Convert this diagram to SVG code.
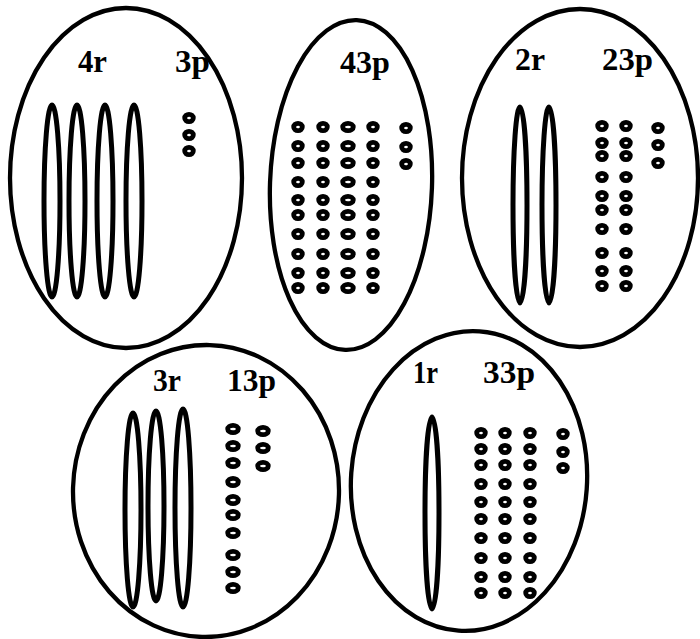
<svg xmlns="http://www.w3.org/2000/svg" width="700" height="639" viewBox="0 0 700 639">
<style>
.cell{fill:none;stroke:#000;stroke-width:4.3}
.rod{fill:none;stroke:#000;stroke-width:5}
.dot{fill:none;stroke:#000;stroke-width:4.8}
.lbl{font-family:"Liberation Serif",serif;font-size:31px;font-weight:bold;fill:#000}
</style>
<defs>
<ellipse id="d" class="dot" cx="0" cy="0" rx="4.3" ry="3.7"/>
<ellipse id="dw" class="dot" cx="0" cy="0" rx="5.3" ry="3.7"/>
</defs>
<rect width="700" height="639" fill="#fff"/>

<g id="cell1">
<ellipse class="cell" cx="126" cy="178" rx="116" ry="170"/>
<ellipse class="rod" cx="52" cy="201" rx="8" ry="96"/>
<ellipse class="rod" cx="77" cy="201" rx="8" ry="96"/>
<ellipse class="rod" cx="105" cy="201" rx="8" ry="96"/>
<ellipse class="rod" cx="134" cy="201" rx="8" ry="96"/>
<use href="#d" x="189" y="118"/><use href="#d" x="189" y="135"/><use href="#d" x="189" y="151"/>
<text class="lbl" x="78" y="72" textLength="29" lengthAdjust="spacingAndGlyphs">4r</text>
<text class="lbl" x="175" y="72" textLength="35" lengthAdjust="spacingAndGlyphs">3p</text>
</g>

<g id="cell2">
<ellipse class="cell" cx="351" cy="185" rx="81" ry="165" transform="rotate(2 351 185)"/>
<g>
<use href="#d" x="298" y="127"/><use href="#d" x="298" y="146"/><use href="#d" x="298" y="163"/><use href="#d" x="298" y="182"/><use href="#d" x="298" y="200"/><use href="#d" x="298" y="215"/><use href="#d" x="298" y="234"/><use href="#d" x="298" y="254"/><use href="#d" x="298" y="273"/><use href="#d" x="298" y="288"/>
<use href="#d" x="323" y="127"/><use href="#d" x="323" y="146"/><use href="#d" x="323" y="163"/><use href="#d" x="323" y="182"/><use href="#d" x="323" y="200"/><use href="#d" x="323" y="215"/><use href="#d" x="323" y="234"/><use href="#d" x="323" y="254"/><use href="#d" x="323" y="273"/><use href="#d" x="323" y="288"/>
<use href="#dw" x="348" y="127"/><use href="#dw" x="348" y="146"/><use href="#dw" x="348" y="163"/><use href="#dw" x="348" y="182"/><use href="#dw" x="348" y="200"/><use href="#dw" x="348" y="215"/><use href="#dw" x="348" y="234"/><use href="#dw" x="348" y="254"/><use href="#dw" x="348" y="273"/><use href="#dw" x="348" y="288"/>
<use href="#d" x="373" y="127"/><use href="#d" x="373" y="146"/><use href="#d" x="373" y="163"/><use href="#d" x="373" y="182"/><use href="#d" x="373" y="200"/><use href="#d" x="373" y="215"/><use href="#d" x="373" y="234"/><use href="#d" x="373" y="254"/><use href="#d" x="373" y="273"/><use href="#d" x="373" y="288"/>
<use href="#d" x="406" y="128"/><use href="#d" x="406" y="147"/><use href="#d" x="406" y="164"/>
</g>
<text class="lbl" x="340" y="73" textLength="50" lengthAdjust="spacingAndGlyphs">43p</text>
</g>

<g id="cell3">
<ellipse class="cell" cx="580" cy="178" rx="118" ry="169"/>
<ellipse class="rod" cx="520" cy="205" rx="7" ry="98"/>
<ellipse class="rod" cx="549" cy="205" rx="7" ry="98"/>
<use href="#d" x="602" y="126"/><use href="#d" x="602" y="143"/><use href="#d" x="602" y="156"/><use href="#d" x="602" y="177"/><use href="#d" x="602" y="196"/><use href="#d" x="602" y="210"/><use href="#d" x="602" y="229"/><use href="#d" x="602" y="253"/><use href="#d" x="602" y="271"/><use href="#d" x="602" y="286"/>
<use href="#d" x="626" y="126"/><use href="#d" x="626" y="143"/><use href="#d" x="626" y="156"/><use href="#d" x="626" y="177"/><use href="#d" x="626" y="196"/><use href="#d" x="626" y="210"/><use href="#d" x="626" y="229"/><use href="#d" x="626" y="253"/><use href="#d" x="626" y="271"/><use href="#d" x="626" y="286"/>
<use href="#d" x="658" y="128"/><use href="#d" x="658" y="145"/><use href="#d" x="658" y="163"/>
<text class="lbl" x="515" y="70" textLength="30" lengthAdjust="spacingAndGlyphs">2r</text>
<text class="lbl" x="602" y="70" textLength="51" lengthAdjust="spacingAndGlyphs">23p</text>
</g>

<g id="cell4">
<ellipse class="cell" cx="206" cy="491" rx="133" ry="146" transform="rotate(1.5 206 491)"/>
<ellipse class="rod" cx="133" cy="510" rx="8" ry="97"/>
<ellipse class="rod" cx="156" cy="506" rx="8" ry="95"/>
<ellipse class="rod" cx="183" cy="508" rx="8" ry="99"/>
<use href="#dw" x="233" y="429"/><use href="#dw" x="233" y="446"/><use href="#dw" x="233" y="463"/><use href="#dw" x="233" y="482"/><use href="#dw" x="233" y="500"/><use href="#dw" x="233" y="515"/><use href="#dw" x="233" y="533"/><use href="#dw" x="233" y="555"/><use href="#dw" x="233" y="572"/><use href="#dw" x="233" y="588"/>
<use href="#dw" x="263" y="431"/><use href="#dw" x="263" y="448"/><use href="#dw" x="263" y="466"/>
<text class="lbl" x="153" y="391" textLength="28" lengthAdjust="spacingAndGlyphs">3r</text>
<text class="lbl" x="227" y="391" textLength="49" lengthAdjust="spacingAndGlyphs">13p</text>
</g>

<g id="cell5">
<ellipse class="cell" cx="469" cy="481" rx="118" ry="150" transform="rotate(4 469 481)"/>
<ellipse class="rod" cx="432" cy="513" rx="7" ry="96"/>
<use href="#d" x="481" y="433"/><use href="#d" x="481" y="449"/><use href="#d" x="481" y="465"/><use href="#d" x="481" y="484"/><use href="#d" x="481" y="502"/><use href="#d" x="481" y="519"/><use href="#d" x="481" y="538"/><use href="#d" x="481" y="558"/><use href="#d" x="481" y="577"/><use href="#d" x="481" y="593"/>
<use href="#d" x="505" y="433"/><use href="#d" x="505" y="449"/><use href="#d" x="505" y="465"/><use href="#d" x="505" y="484"/><use href="#d" x="505" y="502"/><use href="#d" x="505" y="519"/><use href="#d" x="505" y="538"/><use href="#d" x="505" y="558"/><use href="#d" x="505" y="577"/><use href="#d" x="505" y="593"/>
<use href="#d" x="530" y="433"/><use href="#d" x="530" y="449"/><use href="#d" x="530" y="465"/><use href="#d" x="530" y="484"/><use href="#d" x="530" y="502"/><use href="#d" x="530" y="519"/><use href="#d" x="530" y="538"/><use href="#d" x="530" y="558"/><use href="#d" x="530" y="577"/><use href="#d" x="530" y="593"/>
<use href="#d" x="563" y="434"/><use href="#d" x="563" y="452"/><use href="#d" x="563" y="468"/>
<text class="lbl" x="413" y="383" textLength="25" lengthAdjust="spacingAndGlyphs">1r</text>
<text class="lbl" x="483" y="383" textLength="52" lengthAdjust="spacingAndGlyphs">33p</text>
</g>
</svg>
